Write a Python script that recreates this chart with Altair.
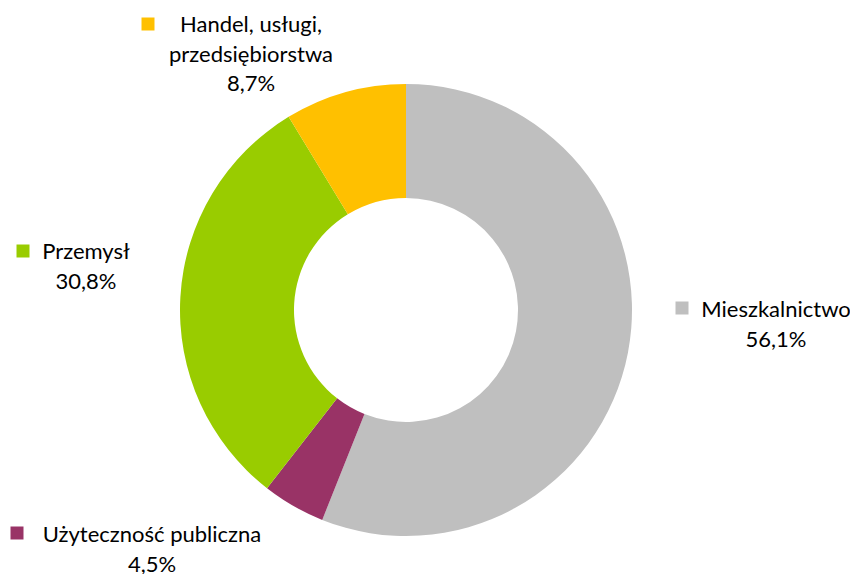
import altair as alt
import pandas as pd

categories = ["Mieszkalnictwo", "Użyteczność publiczna", "Przemysł", "Handel, usługi, przedsiębiorstwa"]
values = [56.1, 4.5, 30.8, 8.7]
colors = ["#BFBFBF", "#993366", "#99CC00", "#FFC000"]
label_lines = [["Mieszkalnictwo"], ["Użyteczność publiczna"], ["Przemysł"], ["Handel, usługi,", "przedsiębiorstwa"]]

df = pd.DataFrame({"cat": categories, "value": values, "order": list(range(len(values)))})

FONT = "Lato"
FS = 22
OFF = 8  # page margin

# layout (page coords): text center x, first baseline y, marker center x,y
layout = {
    "Mieszkalnictwo": dict(tx=776, ty=317, mx=682, my=308),
    "Użyteczność publiczna": dict(tx=152, ty=542, mx=17, my=533),
    "Przemysł": dict(tx=86, ty=259, mx=23, my=251),
    "Handel, usługi, przedsiębiorstwa": dict(tx=251, ty=32, mx=148, my=24),
}
LINE = 29.7

arc = alt.Chart(df).mark_arc(innerRadius=112, outerRadius=226).encode(
    theta=alt.Theta("value:Q", stack=True),
    order=alt.Order("order:Q"),
    color=alt.Color("cat:N", scale=alt.Scale(domain=categories, range=colors), legend=None),
    x=alt.value(406 - OFF),
    y=alt.value(310 - OFF),
)

layers = [arc]
for cat, val, col, lines in zip(categories, values, colors, label_lines):
    L = layout[cat]
    pct = f"{val:.1f}%".replace(".", ",")
    all_lines = lines + [pct]
    for i, t in enumerate(all_lines):
        layers.append(
            alt.Chart(pd.DataFrame({"t": [t]})).mark_text(
                font=FONT, fontSize=FS, color="#000000", align="center", baseline="alphabetic"
            ).encode(text="t:N", x=alt.value(L["tx"] - OFF), y=alt.value(L["ty"] - OFF + i * LINE))
        )
    layers.append(
        alt.Chart(pd.DataFrame({"c": [cat]})).mark_square(size=169, opacity=1, color=col).encode(
            x=alt.value(L["mx"] - OFF), y=alt.value(L["my"] - OFF)
        )
    )

chart = alt.layer(*layers).properties(
    width=842, height=566, autosize=alt.AutoSizeParams(type="none"), padding=0
).configure_view(stroke=None)

chart.save("out.html", embed_options={"renderer": "svg", "actions": False})
